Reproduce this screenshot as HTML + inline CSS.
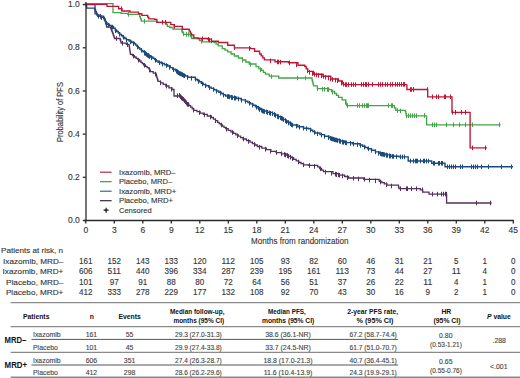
<!DOCTYPE html><html><head><meta charset="utf-8"><style>html,body{margin:0;padding:0;background:#fff;width:520px;height:378px;overflow:hidden}svg{display:block}text{font-family:"Liberation Sans",sans-serif}</style></head><body>
<svg width="520" height="378" viewBox="0 0 520 378">
<polyline points="85.5,4.5 94.6,4.5 95.0,4.5 95.0,13.8 97.0,13.8 97.0,15.0 99.0,15.0 99.0,16.2 103.6,16.2 103.6,17.3 104.2,17.3 104.2,18.7 104.8,18.7 104.8,20.1 105.3,20.1 105.3,21.6 105.9,21.6 105.9,23.0 106.1,23.0 106.1,24.3 106.4,24.3 106.4,25.7 106.6,25.7 106.6,27.0 110.6,27.0 110.6,28.0 111.1,28.0 111.1,29.3 111.6,29.3 111.6,30.6 112.1,30.6 112.1,31.9 112.6,31.9 112.6,33.2 113.1,33.2 113.1,34.5 113.5,34.5 113.5,35.9 114.0,35.9 114.0,37.2 114.5,37.2 114.5,38.5 119.8,38.5 120.2,38.5 120.2,40.0 120.7,40.0 120.7,41.6 121.1,41.6 121.1,43.1 126.4,43.1 126.4,44.4 129.0,44.4 129.0,45.1 129.2,45.1 129.2,46.4 129.4,46.4 129.4,47.8 129.6,47.8 129.6,49.1 129.8,49.1 129.8,50.4 130.0,50.4 130.0,51.7 130.2,51.7 130.2,53.1 130.4,53.1 130.4,54.4 132.4,54.4 132.4,55.7 134.4,55.7 134.4,57.0 136.1,57.0 136.1,58.3 137.9,58.3 137.9,59.7 139.6,59.7 139.6,61.0 140.9,61.0 140.9,62.3 142.3,62.3 142.3,63.7 143.6,63.7 143.6,65.0 145.4,65.0 145.4,66.3 147.1,66.3 147.1,67.6 148.9,67.6 148.9,68.9 149.7,68.9 149.7,70.3 150.4,70.3 150.4,71.7 153.2,71.7 153.2,73.2 156.0,73.2 156.0,74.6 156.4,74.6 156.4,75.9 156.8,75.9 156.8,77.3 157.2,77.3 157.2,78.6 157.6,78.6 157.6,80.0 158.0,80.0 158.0,81.3 160.6,81.3 160.6,82.9 163.2,82.9 163.2,84.4 165.8,84.4 165.8,86.0 168.9,86.0 168.9,87.8 172.0,87.8 172.0,89.5 174.0,89.5 174.0,89.8 174.0,96.0 179.5,96.0 179.5,95.4 180.9,95.4 180.9,96.9 182.2,96.9 182.2,98.3 183.6,98.3 183.6,99.8 184.9,99.8 184.9,101.2 186.3,101.2 186.3,102.7 187.6,102.7 187.6,104.1 189.0,104.1 189.0,105.6 190.6,105.6 190.6,107.2 192.2,107.2 192.2,108.8 193.8,108.8 193.8,110.4 197.0,110.4 197.0,111.7 200.1,111.7 200.1,113.1 203.3,113.1 203.3,114.4 207.3,114.4 207.3,116.0 211.3,116.0 211.3,117.5 213.4,117.5 213.4,119.1 215.5,119.1 215.5,120.7 217.6,120.7 217.6,122.3 219.2,122.3 219.2,123.6 220.8,123.6 220.8,124.9 222.4,124.9 222.4,126.1 224.0,126.1 224.0,127.4 225.6,127.4 225.6,128.7 228.2,128.7 228.2,130.3 230.9,130.3 230.9,131.8 233.5,131.8 233.5,133.4 235.9,133.4 235.9,134.8 238.2,134.8 238.2,136.2 240.6,136.2 240.6,137.6 243.0,137.6 243.0,139.0 246.5,139.0 246.5,140.6 250.0,140.6 250.0,142.1 252.4,142.1 252.4,143.6 254.9,143.6 254.9,145.0 257.3,145.0 257.3,146.5 261.8,146.5 261.8,148.1 266.3,148.1 266.3,149.7 270.8,149.7 270.8,151.3 276.1,151.3 276.1,152.6 281.5,152.6 281.5,153.8 286.2,153.8 286.2,155.2 288.6,155.2 288.6,156.4 291.0,156.4 291.0,157.7 293.6,157.7 293.6,159.3 296.2,159.3 296.2,160.9 298.8,160.9 298.8,162.5 301.1,162.5 301.1,163.7 303.5,163.7 303.5,164.8 308.5,164.8 308.5,165.4 317.7,165.4 317.7,166.9 319.6,166.9 319.6,168.5 321.6,168.5 321.6,170.1 323.5,170.1 323.5,171.7 333.0,171.7 333.0,173.7 338.8,173.7 338.8,175.1 344.6,175.1 344.6,176.5 348.5,176.5 348.5,178.0 363.8,178.0 363.8,179.4 379.2,179.4 379.2,181.3 381.8,181.3 381.8,182.6 384.3,182.6 384.3,183.9 386.9,183.9 386.9,185.2 398.5,185.2 398.5,187.2 399.0,187.2 399.0,188.7 418.0,188.7 420.4,188.7 420.4,189.8 422.7,189.8 422.7,192.1 429.0,192.1 429.0,194.1 446.6,194.1 446.6,203.0 491.7,203.0" fill="none" stroke="#54305f" stroke-width="1.3" stroke-linejoin="miter"/>
<path d="M100.5 14.1v4.6M105.5 19.7v4.6M111.5 26.7v4.6M116.5 36.2v4.6M122.5 41.0v4.6M127.5 42.4v4.6M133.5 53.8v4.6M138.5 57.9v4.6M144.5 63.0v4.6M149.5 67.7v4.6M155.5 71.8v4.6M160.5 80.5v4.6M166.5 83.8v4.6M171.5 86.9v4.6M177.5 93.4v4.6M182.5 96.3v4.6M188.5 102.2v4.6M193.5 107.8v4.6M199.5 110.3v4.6M204.5 112.6v4.6M210.5 114.7v4.6M215.5 118.4v4.6M221.5 122.7v4.6M226.5 126.9v4.6M232.5 130.2v4.6M237.5 133.5v4.6M243.5 136.7v4.6M248.5 139.1v4.6M254.5 142.2v4.6M259.5 145.0v4.6M265.5 146.9v4.6M270.5 148.9v4.6M276.5 150.2v4.6M281.5 151.5v4.6M287.5 153.3v4.6M292.5 156.3v4.6M298.5 159.7v4.6M303.5 162.5v4.6M309.5 163.2v4.6M314.5 164.1v4.6M320.5 166.5v4.6M325.5 169.8v4.6M331.5 171.0v4.6M336.5 172.2v4.6M342.5 173.6v4.6M347.5 175.3v4.6M353.5 176.1v4.6M358.5 176.6v4.6M364.5 177.1v4.6M369.5 177.8v4.6M375.5 178.5v4.6M380.5 179.7v4.6M386.5 182.4v4.6M391.5 183.7v4.6M179.5 93.1v4.6M180.5 94.4v4.6M181.5 95.7v4.6M183.5 97.0v4.6M184.5 98.3v4.6M185.5 99.5v4.6M186.5 100.8v4.6M187.5 102.1v4.6M284.5 152.2v4.6M285.5 152.7v4.6M287.5 153.3v4.6M288.5 154.1v4.6M290.5 154.9v4.6M335.5 171.9v4.6M336.5 172.2v4.6M338.5 172.6v4.6M339.5 173.0v4.6M400.5 186.4v4.6M406.5 186.4v4.6M407.5 186.4v4.6M411.5 186.4v4.6M416.5 186.4v4.6M422.5 187.5v4.6M432.5 191.8v4.6M437.5 191.8v4.6M441.5 191.8v4.6M443.5 191.8v4.6M445.5 191.8v4.6M446.5 191.8v4.6M476.5 200.7v4.6M490.5 200.7v4.6" stroke="#54305f" stroke-width="1.0" fill="none"/>
<polyline points="85.5,4.5 86.6,4.5 86.6,8.1 94.2,8.1 94.8,8.1 94.8,9.8 95.5,9.8 95.5,11.5 96.3,11.5 96.3,13.1 97.0,13.1 97.0,14.6 97.8,14.6 97.8,16.2 100.7,16.2 100.7,17.4 103.6,17.4 103.6,18.5 104.4,18.5 104.4,19.9 105.3,19.9 105.3,21.4 106.2,21.4 106.2,22.8 107.0,22.8 107.0,24.2 109.3,24.2 109.3,25.4 111.7,25.4 111.7,26.5 113.5,26.5 113.5,28.2 115.2,28.2 115.2,30.0 116.7,30.0 116.7,31.5 118.3,31.5 118.3,33.0 119.8,33.0 119.8,34.5 121.5,34.5 121.5,35.8 123.1,35.8 123.1,37.1 124.8,37.1 124.8,38.5 126.4,38.5 126.4,39.8 129.1,39.8 129.1,41.1 131.7,41.1 131.7,42.5 134.4,42.5 134.4,43.8 135.7,43.8 135.7,45.1 137.0,45.1 137.0,46.4 138.3,46.4 138.3,47.7 139.6,47.7 139.6,49.0 141.3,49.0 141.3,50.4 142.9,50.4 142.9,51.7 144.6,51.7 144.6,53.0 146.3,53.0 146.3,54.4 148.5,54.4 148.5,55.7 150.7,55.7 150.7,57.0 152.9,57.0 152.9,58.3 154.6,58.3 154.6,59.6 156.4,59.6 156.4,61.0 158.1,61.0 158.1,62.3 161.3,62.3 161.3,63.5 164.5,63.5 164.5,64.8 167.7,64.8 167.7,66.0 170.3,66.0 170.3,67.6 172.8,67.6 172.8,69.2 175.4,69.2 175.4,70.8 177.7,70.8 177.7,72.2 180.0,72.2 180.0,73.5 182.6,73.5 182.6,74.8 185.1,74.8 185.1,76.0 187.7,76.0 187.7,77.3 195.4,77.3 195.4,79.2 197.4,79.2 197.4,80.5 199.4,80.5 199.4,81.8 201.3,81.8 201.3,83.2 203.3,83.2 203.3,84.5 205.9,84.5 205.9,85.8 208.6,85.8 208.6,87.1 211.2,87.1 211.2,88.4 213.9,88.4 213.9,89.7 216.5,89.7 216.5,91.0 218.8,91.0 218.8,92.2 221.1,92.2 221.1,93.5 223.3,93.5 223.3,94.8 225.6,94.8 225.6,96.0 231.1,96.0 231.1,97.2 236.7,97.2 236.7,98.5 241.1,98.5 241.1,99.9 245.4,99.9 245.4,101.3 247.9,101.3 247.9,102.6 250.5,102.6 250.5,103.9 253.0,103.9 253.0,105.2 255.4,105.2 255.4,106.7 257.9,106.7 257.9,108.1 260.3,108.1 260.3,109.5 262.7,109.5 262.7,111.0 267.6,111.0 267.6,112.4 272.5,112.4 272.5,113.8 275.5,113.8 275.5,115.3 278.5,115.3 278.5,116.8 281.5,116.8 281.5,118.3 283.6,118.3 283.6,119.6 285.7,119.6 285.7,121.0 287.8,121.0 287.8,122.3 289.9,122.3 289.9,123.7 292.0,123.7 292.0,125.0 297.8,125.0 297.8,126.7 303.5,126.7 303.5,128.3 308.5,128.3 308.5,128.8 310.7,128.8 310.7,130.2 312.8,130.2 312.8,131.6 315.0,131.6 315.0,133.0 320.0,133.0 320.0,134.6 324.5,134.6 324.5,136.2 329.0,136.2 329.0,137.8 333.5,137.8 333.5,139.4 339.1,139.4 339.1,141.0 344.6,141.0 344.6,142.6 352.3,142.6 352.3,143.8 360.0,143.8 360.0,145.0 362.6,145.0 362.6,146.2 365.1,146.2 365.1,147.5 367.7,147.5 367.7,148.7 371.5,148.7 371.5,150.3 375.4,150.3 375.4,151.9 379.2,151.9 379.2,153.5 385.0,153.5 385.0,154.9 390.8,154.9 390.8,156.3 399.0,156.3 399.0,156.9 408.0,156.9 408.2,156.9 408.2,161.0 431.7,161.0 431.7,163.3 445.0,163.3 445.0,166.8 513.0,166.8" fill="none" stroke="#1b4a7c" stroke-width="1.4" stroke-linejoin="miter"/>
<path d="M98.5 14.0v4.6M101.5 15.4v4.6M105.5 18.9v4.6M108.5 22.8v4.6M112.5 24.9v4.6M115.5 28.5v4.6M119.5 32.0v4.6M123.5 34.9v4.6M126.5 37.7v4.6M130.5 39.5v4.6M133.5 41.3v4.6M137.5 44.7v4.6M141.5 48.0v4.6M144.5 50.9v4.6M148.5 53.3v4.6M151.5 55.5v4.6M155.5 58.1v4.6M159.5 60.4v4.6M162.5 61.8v4.6M166.5 63.2v4.6M169.5 65.1v4.6M173.5 67.4v4.6M177.5 69.6v4.6M180.5 71.6v4.6M184.5 73.4v4.6M187.5 75.1v4.6M191.5 76.0v4.6M195.5 76.9v4.6M198.5 79.2v4.6M202.5 81.6v4.6M205.5 83.5v4.6M209.5 85.3v4.6M213.5 87.1v4.6M216.5 88.9v4.6M220.5 90.8v4.6M223.5 92.8v4.6M227.5 94.2v4.6M231.5 95.0v4.6M234.5 95.8v4.6M238.5 96.7v4.6M241.5 97.9v4.6M245.5 99.1v4.6M249.5 100.9v4.6M252.5 102.8v4.6M256.5 104.9v4.6M259.5 107.1v4.6M263.5 109.0v4.6M267.5 110.0v4.6M270.5 111.0v4.6M274.5 112.4v4.6M277.5 114.2v4.6M281.5 116.1v4.6M285.5 118.4v4.6M288.5 120.7v4.6M292.5 122.8v4.6M296.5 123.8v4.6M299.5 124.9v4.6M303.5 125.9v4.6M306.5 126.3v4.6M310.5 127.7v4.6M314.5 130.1v4.6M317.5 131.5v4.6M321.5 132.7v4.6M324.5 134.0v4.6M328.5 135.3v4.6M332.5 136.6v4.6M335.5 137.7v4.6M339.5 138.7v4.6M342.5 139.8v4.6M346.5 140.6v4.6M350.5 141.1v4.6M353.5 141.7v4.6M357.5 142.3v4.6M360.5 143.1v4.6M364.5 144.8v4.6M368.5 146.5v4.6M371.5 148.0v4.6M375.5 149.5v4.6M378.5 151.0v4.6M382.5 152.0v4.6M386.5 152.8v4.6M389.5 153.7v4.6M393.5 154.2v4.6M396.5 154.4v4.6M144.5 50.2v4.6M145.5 51.2v4.6M146.5 52.2v4.6M147.5 52.9v4.6M148.5 53.6v4.6M149.5 54.3v4.6M176.5 68.9v4.6M177.5 69.6v4.6M178.5 70.4v4.6M179.5 71.1v4.6M181.5 71.8v4.6M182.5 72.4v4.6M183.5 73.1v4.6M228.5 94.2v4.6M229.5 94.6v4.6M231.5 94.9v4.6M232.5 95.3v4.6M234.5 95.6v4.6M235.5 95.9v4.6M258.5 105.9v4.6M259.5 106.8v4.6M261.5 107.8v4.6M262.5 108.7v4.6M264.5 109.2v4.6M266.5 109.6v4.6M267.5 110.1v4.6M269.5 110.6v4.6M270.5 111.0v4.6M272.5 111.5v4.6M274.5 112.3v4.6M275.5 113.1v4.6M277.5 113.9v4.6M278.5 114.7v4.6M280.5 115.5v4.6M282.5 116.3v4.6M283.5 117.3v4.6M285.5 118.4v4.6M286.5 119.4v4.6M288.5 120.4v4.6M290.5 121.4v4.6M291.5 122.4v4.6M330.5 135.9v4.6M331.5 136.4v4.6M333.5 136.9v4.6M334.5 137.4v4.6M336.5 137.8v4.6M337.5 138.3v4.6M339.5 138.7v4.6M340.5 139.1v4.6M342.5 139.6v4.6M343.5 140.0v4.6M345.5 140.4v4.6M380.5 151.4v4.6M381.5 151.8v4.6M383.5 152.1v4.6M384.5 152.5v4.6M386.5 152.8v4.6M387.5 153.2v4.6M389.5 153.6v4.6M390.5 153.9v4.6M392.5 154.1v4.6M400.5 154.6v4.6M402.5 154.6v4.6M404.5 154.6v4.6M410.5 158.7v4.6M413.5 158.7v4.6M415.5 158.7v4.6M416.5 158.7v4.6M417.5 158.7v4.6M420.5 158.7v4.6M423.5 158.7v4.6M424.5 158.7v4.6M426.5 158.7v4.6M428.5 158.7v4.6M433.5 161.0v4.6M434.5 161.0v4.6M438.5 161.0v4.6M439.5 161.0v4.6M441.5 161.0v4.6M442.5 161.0v4.6M447.5 164.5v4.6M449.5 164.5v4.6M451.5 164.5v4.6M453.5 164.5v4.6M455.5 164.5v4.6M460.5 164.5v4.6M462.5 164.5v4.6M471.5 164.5v4.6M473.5 164.5v4.6M475.5 164.5v4.6M477.5 164.5v4.6M481.5 164.5v4.6M488.5 164.5v4.6M501.5 164.5v4.6M511.5 164.5v4.6" stroke="#1b4a7c" stroke-width="1.0" fill="none"/>
<polyline points="85.5,3.6 112.5,3.6 113.0,3.6 113.0,12.7 121.0,12.7 121.0,13.3 127.8,13.3 127.8,14.4 138.2,14.4 139.6,14.4 139.6,16.5 140.4,16.5 140.4,18.9 141.3,18.9 141.3,21.2 155.8,21.2 156.9,21.2 156.9,22.3 165.6,22.3 165.6,22.5 166.4,22.5 166.4,24.4 167.3,24.4 167.3,26.3 169.6,26.3 169.6,27.5 173.0,27.5 173.0,29.2 181.2,29.2 181.8,29.2 181.8,31.0 182.3,31.0 182.3,32.7 183.5,32.7 183.5,34.4 189.2,34.4 190.4,34.4 190.4,36.5 191.7,36.5 191.7,38.5 199.4,38.5 199.4,40.5 202.1,40.5 202.1,41.8 214.2,41.8 214.2,42.5 216.2,42.5 216.2,44.2 218.3,44.2 218.3,45.9 222.3,45.9 222.3,48.6 225.0,48.6 225.0,50.2 227.7,50.2 227.7,51.9 231.1,51.9 231.1,54.0 234.4,54.0 234.4,56.0 238.4,56.0 238.4,58.0 242.5,58.0 242.5,60.0 245.8,60.0 245.8,62.0 249.2,62.0 249.2,64.0 256.0,64.0 256.0,66.7 258.8,66.7 258.8,68.6 261.5,68.6 261.5,70.4 263.4,70.4 263.4,72.3 265.4,72.3 265.4,74.2 269.2,74.2 269.2,76.2 278.8,76.2 278.8,78.0 311.5,78.0 312.0,78.0 312.0,80.0 312.5,80.0 312.5,81.9 313.0,81.9 313.0,83.8 313.5,83.8 313.5,85.8 317.3,85.8 317.3,88.7 328.8,88.7 328.8,89.6 331.7,89.6 331.7,91.5 334.6,91.5 334.6,93.5 336.6,93.5 336.6,95.4 338.5,95.4 338.5,97.3 342.1,97.3 342.1,99.8 345.8,99.8 345.8,102.3 346.2,102.3 346.2,103.9 346.7,103.9 346.7,105.6 392.9,105.6 394.4,105.6 394.4,108.0 395.8,108.0 395.8,110.4 405.4,110.4 405.4,111.5 405.9,111.5 405.9,113.7 406.3,113.7 406.3,115.8 426.6,115.8 426.6,115.5 426.6,124.8 500.6,124.8" fill="none" stroke="#45a448" stroke-width="1.3" stroke-linejoin="miter"/>
<path d="M128.5 12.1v4.6M144.5 18.9v4.6M183.5 31.4v4.6M186.5 32.1v4.6M188.5 32.1v4.6M201.5 39.1v4.6M242.5 57.8v4.6M250.5 62.2v4.6M260.5 67.5v4.6M271.5 74.3v4.6M297.5 75.7v4.6M305.5 75.7v4.6M317.5 86.3v4.6M322.5 86.8v4.6M324.5 87.0v4.6M327.5 87.2v4.6M328.5 87.3v4.6M332.5 89.9v4.6M345.5 100.0v4.6M347.5 103.3v4.6M357.5 103.3v4.6M359.5 103.3v4.6M362.5 103.3v4.6M364.5 103.3v4.6M366.5 103.3v4.6M367.5 103.3v4.6M368.5 103.3v4.6M388.5 103.3v4.6M391.5 103.3v4.6M392.5 103.3v4.6M397.5 108.3v4.6M400.5 108.7v4.6M406.5 113.5v4.6M408.5 113.5v4.6M410.5 113.4v4.6M412.5 113.4v4.6M414.5 113.4v4.6M416.5 113.4v4.6M424.5 113.2v4.6M432.5 122.5v4.6M434.5 122.5v4.6M436.5 122.5v4.6M446.5 122.5v4.6M453.5 122.5v4.6M459.5 122.5v4.6M465.5 122.5v4.6M472.5 122.5v4.6M499.5 122.5v4.6" stroke="#45a448" stroke-width="1.0" fill="none"/>
<polyline points="83.5,4.4 107.0,4.4 107.0,6.3 118.6,6.3 118.6,8.7 122.0,8.7 122.0,11.0 130.0,11.0 130.0,12.1 137.0,12.1 138.5,12.1 138.5,13.7 141.9,13.7 141.9,15.4 146.5,15.4 147.7,15.4 147.7,17.1 148.8,17.1 148.8,18.8 154.6,18.8 154.6,19.4 156.9,19.4 156.9,22.3 168.5,22.3 170.8,22.3 170.8,24.6 174.2,24.6 174.2,26.3 181.2,26.3 182.3,26.3 182.3,29.2 188.0,29.2 189.2,29.2 189.2,31.1 190.3,31.1 190.3,33.1 191.5,33.1 191.5,35.0 193.8,35.0 193.8,37.9 198.0,37.9 198.0,38.5 207.5,38.5 207.5,39.1 211.5,39.1 211.5,41.2 218.3,41.2 218.3,42.5 227.7,42.5 227.7,45.2 234.4,45.2 234.4,47.9 250.6,47.9 250.6,48.6 254.6,48.6 254.6,51.2 259.6,51.2 259.6,54.0 261.2,54.0 261.2,55.9 262.8,55.9 262.8,57.9 264.4,57.9 264.4,59.8 275.0,59.8 275.0,61.7 288.5,61.7 288.5,62.7 298.0,62.7 298.0,65.2 304.8,65.2 304.8,66.5 306.2,66.5 306.2,68.9 307.7,68.9 307.7,71.3 313.5,71.3 313.5,74.2 323.0,74.2 323.0,76.2 330.8,76.2 330.8,79.0 338.5,79.0 338.5,81.0 342.3,81.0 342.3,83.8 343.8,83.8 343.8,84.6 406.9,84.6 406.9,84.4 406.9,89.5 427.7,89.5 427.7,96.8 452.0,96.8 452.0,112.3 470.1,112.3 470.1,147.9 487.0,147.9" fill="none" stroke="#c01434" stroke-width="1.35" stroke-linejoin="miter"/>
<path d="M121.5 6.4v4.6M162.5 20.0v4.6M165.5 20.0v4.6M174.5 24.0v4.6M202.5 36.5v4.6M208.5 37.1v4.6M209.5 37.9v4.6M211.5 38.6v4.6M234.5 45.4v4.6M249.5 46.2v4.6M270.5 58.6v4.6M277.5 59.6v4.6M278.5 59.7v4.6M280.5 59.8v4.6M289.5 60.6v4.6M296.5 62.6v4.6M307.5 68.5v4.6M309.5 70.0v4.6M312.5 71.2v4.6M314.5 72.1v4.6M316.5 72.6v4.6M318.5 73.0v4.6M321.5 73.5v4.6M323.5 74.1v4.6M325.5 74.9v4.6M328.5 75.7v4.6M330.5 76.6v4.6M332.5 77.2v4.6M335.5 77.8v4.6M337.5 78.4v4.6M341.5 80.8v4.6M343.5 81.9v4.6M345.5 82.3v4.6M346.5 82.3v4.6M348.5 82.3v4.6M351.5 82.3v4.6M353.5 82.3v4.6M355.5 82.3v4.6M361.5 82.2v4.6M363.5 82.2v4.6M365.5 82.2v4.6M366.5 82.2v4.6M368.5 82.2v4.6M372.5 82.2v4.6M378.5 82.2v4.6M380.5 82.2v4.6M382.5 82.2v4.6M385.5 82.2v4.6M387.5 82.2v4.6M390.5 82.2v4.6M392.5 82.1v4.6M395.5 82.1v4.6M397.5 82.1v4.6M399.5 82.1v4.6M401.5 82.1v4.6M403.5 82.1v4.6M404.5 82.1v4.6M410.5 87.2v4.6M411.5 87.2v4.6M413.5 87.2v4.6M413.5 87.2v4.6M427.5 87.2v4.6M432.5 94.5v4.6M436.5 94.5v4.6M438.5 94.5v4.6M444.5 94.5v4.6M445.5 94.5v4.6M450.5 94.5v4.6M452.5 110.0v4.6M455.5 110.0v4.6M461.5 110.0v4.6M465.5 110.0v4.6M472.5 145.6v4.6M485.5 145.6v4.6" stroke="#c01434" stroke-width="1.0" fill="none"/>
<g stroke="#2a2a2a" stroke-width="1.3" fill="none">
<line x1="86.0" y1="2.0" x2="86.0" y2="221.1"/>
<line x1="83.8" y1="220.5" x2="513.9" y2="220.5"/>
<line x1="82.8" y1="220.50" x2="85.8" y2="220.50"/>
<line x1="82.8" y1="177.32" x2="85.8" y2="177.32"/>
<line x1="82.8" y1="134.14" x2="85.8" y2="134.14"/>
<line x1="82.8" y1="90.96" x2="85.8" y2="90.96"/>
<line x1="82.8" y1="47.78" x2="85.8" y2="47.78"/>
<line x1="82.8" y1="4.60" x2="85.8" y2="4.60"/>
<line x1="85.80" y1="220.5" x2="85.80" y2="223.5"/>
<line x1="114.30" y1="220.5" x2="114.30" y2="223.5"/>
<line x1="142.80" y1="220.5" x2="142.80" y2="223.5"/>
<line x1="171.30" y1="220.5" x2="171.30" y2="223.5"/>
<line x1="199.80" y1="220.5" x2="199.80" y2="223.5"/>
<line x1="228.30" y1="220.5" x2="228.30" y2="223.5"/>
<line x1="256.80" y1="220.5" x2="256.80" y2="223.5"/>
<line x1="285.30" y1="220.5" x2="285.30" y2="223.5"/>
<line x1="313.80" y1="220.5" x2="313.80" y2="223.5"/>
<line x1="342.30" y1="220.5" x2="342.30" y2="223.5"/>
<line x1="370.80" y1="220.5" x2="370.80" y2="223.5"/>
<line x1="399.30" y1="220.5" x2="399.30" y2="223.5"/>
<line x1="427.80" y1="220.5" x2="427.80" y2="223.5"/>
<line x1="456.30" y1="220.5" x2="456.30" y2="223.5"/>
<line x1="484.80" y1="220.5" x2="484.80" y2="223.5"/>
<line x1="513.30" y1="220.5" x2="513.30" y2="223.5"/>
</g>
<text x="79.80" y="223.10" font-size="8.5" fill="#333" text-anchor="end" stroke="#333" stroke-width="0.12">0.0</text>
<text x="79.80" y="179.92" font-size="8.5" fill="#333" text-anchor="end" stroke="#333" stroke-width="0.12">0.2</text>
<text x="79.80" y="136.74" font-size="8.5" fill="#333" text-anchor="end" stroke="#333" stroke-width="0.12">0.4</text>
<text x="79.80" y="93.56" font-size="8.5" fill="#333" text-anchor="end" stroke="#333" stroke-width="0.12">0.6</text>
<text x="79.80" y="50.38" font-size="8.5" fill="#333" text-anchor="end" stroke="#333" stroke-width="0.12">0.8</text>
<text x="79.80" y="7.20" font-size="8.5" fill="#333" text-anchor="end" stroke="#333" stroke-width="0.12">1.0</text>
<text x="85.80" y="232.60" font-size="8.5" fill="#333" text-anchor="middle" stroke="#333" stroke-width="0.12">0</text>
<text x="114.30" y="232.60" font-size="8.5" fill="#333" text-anchor="middle" stroke="#333" stroke-width="0.12">3</text>
<text x="142.80" y="232.60" font-size="8.5" fill="#333" text-anchor="middle" stroke="#333" stroke-width="0.12">6</text>
<text x="171.30" y="232.60" font-size="8.5" fill="#333" text-anchor="middle" stroke="#333" stroke-width="0.12">9</text>
<text x="199.80" y="232.60" font-size="8.5" fill="#333" text-anchor="middle" stroke="#333" stroke-width="0.12">12</text>
<text x="228.30" y="232.60" font-size="8.5" fill="#333" text-anchor="middle" stroke="#333" stroke-width="0.12">15</text>
<text x="256.80" y="232.60" font-size="8.5" fill="#333" text-anchor="middle" stroke="#333" stroke-width="0.12">18</text>
<text x="285.30" y="232.60" font-size="8.5" fill="#333" text-anchor="middle" stroke="#333" stroke-width="0.12">21</text>
<text x="313.80" y="232.60" font-size="8.5" fill="#333" text-anchor="middle" stroke="#333" stroke-width="0.12">24</text>
<text x="342.30" y="232.60" font-size="8.5" fill="#333" text-anchor="middle" stroke="#333" stroke-width="0.12">27</text>
<text x="370.80" y="232.60" font-size="8.5" fill="#333" text-anchor="middle" stroke="#333" stroke-width="0.12">30</text>
<text x="399.30" y="232.60" font-size="8.5" fill="#333" text-anchor="middle" stroke="#333" stroke-width="0.12">33</text>
<text x="427.80" y="232.60" font-size="8.5" fill="#333" text-anchor="middle" stroke="#333" stroke-width="0.12">36</text>
<text x="456.30" y="232.60" font-size="8.5" fill="#333" text-anchor="middle" stroke="#333" stroke-width="0.12">39</text>
<text x="484.80" y="232.60" font-size="8.5" fill="#333" text-anchor="middle" stroke="#333" stroke-width="0.12">42</text>
<text x="513.30" y="232.60" font-size="8.5" fill="#333" text-anchor="middle" stroke="#333" stroke-width="0.12">45</text>
<text x="299.80" y="243.60" font-size="9.4" fill="#333" text-anchor="middle" textLength="97.5" lengthAdjust="spacingAndGlyphs" stroke="#333" stroke-width="0.12">Months from randomization</text>
<text transform="translate(62.7,112.1) rotate(-90)" fill="#333" stroke="#333" stroke-width="0.12" font-size="9.4" text-anchor="middle" textLength="60" lengthAdjust="spacingAndGlyphs">Probability of PFS</text>
<line x1="100" y1="172.20000000000002" x2="111.6" y2="172.20000000000002" stroke="#a8203f" stroke-width="1.15"/>
<text x="119.00" y="174.80" font-size="7.4" fill="#333" textLength="56.6" lengthAdjust="spacingAndGlyphs" stroke="#333" stroke-width="0.12">Ixazomib, MRD–</text>
<line x1="100" y1="181.70000000000002" x2="111.6" y2="181.70000000000002" stroke="#3d8f45" stroke-width="1.15"/>
<text x="119.00" y="184.30" font-size="7.4" fill="#333" textLength="53.2" lengthAdjust="spacingAndGlyphs" stroke="#333" stroke-width="0.12">Placebo, MRD–</text>
<line x1="100" y1="191.20000000000002" x2="111.6" y2="191.20000000000002" stroke="#2f5f8f" stroke-width="1.15"/>
<text x="119.00" y="193.80" font-size="7.4" fill="#333" textLength="57.2" lengthAdjust="spacingAndGlyphs" stroke="#333" stroke-width="0.12">Ixazomib, MRD+</text>
<line x1="100" y1="200.70000000000002" x2="111.6" y2="200.70000000000002" stroke="#2e1e3a" stroke-width="1.15"/>
<text x="119.00" y="203.30" font-size="7.4" fill="#333" textLength="54.1" lengthAdjust="spacingAndGlyphs" stroke="#333" stroke-width="0.12">Placebo, MRD+</text>
<path d="M103.6 210.2h5M106.1 207.7v5" stroke="#111" stroke-width="1.2"/>
<text x="119.00" y="212.80" font-size="7.4" fill="#333" textLength="32.6" lengthAdjust="spacingAndGlyphs" stroke="#333" stroke-width="0.12">Censored</text>
<text x="1.10" y="252.70" font-size="8.0" fill="#333" textLength="62.0" lengthAdjust="spacingAndGlyphs" stroke="#333" stroke-width="0.12">Patients at risk, n</text>
<text x="3.10" y="263.80" font-size="8.0" fill="#333" textLength="60.3" lengthAdjust="spacingAndGlyphs" stroke="#333" stroke-width="0.12">Ixazomib, MRD–</text>
<text x="85.80" y="263.80" font-size="8.2" fill="#333" text-anchor="middle" textLength="13.5" lengthAdjust="spacingAndGlyphs" stroke="#333" stroke-width="0.12">161</text>
<text x="114.30" y="263.80" font-size="8.2" fill="#333" text-anchor="middle" textLength="13.5" lengthAdjust="spacingAndGlyphs" stroke="#333" stroke-width="0.12">152</text>
<text x="142.80" y="263.80" font-size="8.2" fill="#333" text-anchor="middle" textLength="13.5" lengthAdjust="spacingAndGlyphs" stroke="#333" stroke-width="0.12">143</text>
<text x="171.30" y="263.80" font-size="8.2" fill="#333" text-anchor="middle" textLength="13.5" lengthAdjust="spacingAndGlyphs" stroke="#333" stroke-width="0.12">133</text>
<text x="199.80" y="263.80" font-size="8.2" fill="#333" text-anchor="middle" textLength="13.5" lengthAdjust="spacingAndGlyphs" stroke="#333" stroke-width="0.12">120</text>
<text x="228.30" y="263.80" font-size="8.2" fill="#333" text-anchor="middle" textLength="13.5" lengthAdjust="spacingAndGlyphs" stroke="#333" stroke-width="0.12">112</text>
<text x="256.80" y="263.80" font-size="8.2" fill="#333" text-anchor="middle" textLength="13.5" lengthAdjust="spacingAndGlyphs" stroke="#333" stroke-width="0.12">105</text>
<text x="285.30" y="263.80" font-size="8.2" fill="#333" text-anchor="middle" textLength="9.0" lengthAdjust="spacingAndGlyphs" stroke="#333" stroke-width="0.12">93</text>
<text x="313.80" y="263.80" font-size="8.2" fill="#333" text-anchor="middle" textLength="9.0" lengthAdjust="spacingAndGlyphs" stroke="#333" stroke-width="0.12">82</text>
<text x="342.30" y="263.80" font-size="8.2" fill="#333" text-anchor="middle" textLength="9.0" lengthAdjust="spacingAndGlyphs" stroke="#333" stroke-width="0.12">60</text>
<text x="370.80" y="263.80" font-size="8.2" fill="#333" text-anchor="middle" textLength="9.0" lengthAdjust="spacingAndGlyphs" stroke="#333" stroke-width="0.12">46</text>
<text x="399.30" y="263.80" font-size="8.2" fill="#333" text-anchor="middle" textLength="9.0" lengthAdjust="spacingAndGlyphs" stroke="#333" stroke-width="0.12">31</text>
<text x="427.80" y="263.80" font-size="8.2" fill="#333" text-anchor="middle" textLength="9.0" lengthAdjust="spacingAndGlyphs" stroke="#333" stroke-width="0.12">21</text>
<text x="456.30" y="263.80" font-size="8.2" fill="#333" text-anchor="middle" textLength="4.5" lengthAdjust="spacingAndGlyphs" stroke="#333" stroke-width="0.12">5</text>
<text x="484.80" y="263.80" font-size="8.2" fill="#333" text-anchor="middle" textLength="4.5" lengthAdjust="spacingAndGlyphs" stroke="#333" stroke-width="0.12">1</text>
<text x="513.30" y="263.80" font-size="8.2" fill="#333" text-anchor="middle" textLength="4.5" lengthAdjust="spacingAndGlyphs" stroke="#333" stroke-width="0.12">0</text>
<text x="2.60" y="274.30" font-size="8.0" fill="#333" textLength="60.8" lengthAdjust="spacingAndGlyphs" stroke="#333" stroke-width="0.12">Ixazomib, MRD+</text>
<text x="85.80" y="274.30" font-size="8.2" fill="#333" text-anchor="middle" textLength="13.5" lengthAdjust="spacingAndGlyphs" stroke="#333" stroke-width="0.12">606</text>
<text x="114.30" y="274.30" font-size="8.2" fill="#333" text-anchor="middle" textLength="13.5" lengthAdjust="spacingAndGlyphs" stroke="#333" stroke-width="0.12">511</text>
<text x="142.80" y="274.30" font-size="8.2" fill="#333" text-anchor="middle" textLength="13.5" lengthAdjust="spacingAndGlyphs" stroke="#333" stroke-width="0.12">440</text>
<text x="171.30" y="274.30" font-size="8.2" fill="#333" text-anchor="middle" textLength="13.5" lengthAdjust="spacingAndGlyphs" stroke="#333" stroke-width="0.12">396</text>
<text x="199.80" y="274.30" font-size="8.2" fill="#333" text-anchor="middle" textLength="13.5" lengthAdjust="spacingAndGlyphs" stroke="#333" stroke-width="0.12">334</text>
<text x="228.30" y="274.30" font-size="8.2" fill="#333" text-anchor="middle" textLength="13.5" lengthAdjust="spacingAndGlyphs" stroke="#333" stroke-width="0.12">287</text>
<text x="256.80" y="274.30" font-size="8.2" fill="#333" text-anchor="middle" textLength="13.5" lengthAdjust="spacingAndGlyphs" stroke="#333" stroke-width="0.12">239</text>
<text x="285.30" y="274.30" font-size="8.2" fill="#333" text-anchor="middle" textLength="13.5" lengthAdjust="spacingAndGlyphs" stroke="#333" stroke-width="0.12">195</text>
<text x="313.80" y="274.30" font-size="8.2" fill="#333" text-anchor="middle" textLength="13.5" lengthAdjust="spacingAndGlyphs" stroke="#333" stroke-width="0.12">161</text>
<text x="342.30" y="274.30" font-size="8.2" fill="#333" text-anchor="middle" textLength="13.5" lengthAdjust="spacingAndGlyphs" stroke="#333" stroke-width="0.12">113</text>
<text x="370.80" y="274.30" font-size="8.2" fill="#333" text-anchor="middle" textLength="9.0" lengthAdjust="spacingAndGlyphs" stroke="#333" stroke-width="0.12">73</text>
<text x="399.30" y="274.30" font-size="8.2" fill="#333" text-anchor="middle" textLength="9.0" lengthAdjust="spacingAndGlyphs" stroke="#333" stroke-width="0.12">44</text>
<text x="427.80" y="274.30" font-size="8.2" fill="#333" text-anchor="middle" textLength="9.0" lengthAdjust="spacingAndGlyphs" stroke="#333" stroke-width="0.12">27</text>
<text x="456.30" y="274.30" font-size="8.2" fill="#333" text-anchor="middle" textLength="9.0" lengthAdjust="spacingAndGlyphs" stroke="#333" stroke-width="0.12">11</text>
<text x="484.80" y="274.30" font-size="8.2" fill="#333" text-anchor="middle" textLength="4.5" lengthAdjust="spacingAndGlyphs" stroke="#333" stroke-width="0.12">4</text>
<text x="513.30" y="274.30" font-size="8.2" fill="#333" text-anchor="middle" textLength="4.5" lengthAdjust="spacingAndGlyphs" stroke="#333" stroke-width="0.12">0</text>
<text x="6.10" y="284.80" font-size="8.0" fill="#333" textLength="57.3" lengthAdjust="spacingAndGlyphs" stroke="#333" stroke-width="0.12">Placebo, MRD–</text>
<text x="85.80" y="284.80" font-size="8.2" fill="#333" text-anchor="middle" textLength="13.5" lengthAdjust="spacingAndGlyphs" stroke="#333" stroke-width="0.12">101</text>
<text x="114.30" y="284.80" font-size="8.2" fill="#333" text-anchor="middle" textLength="9.0" lengthAdjust="spacingAndGlyphs" stroke="#333" stroke-width="0.12">97</text>
<text x="142.80" y="284.80" font-size="8.2" fill="#333" text-anchor="middle" textLength="9.0" lengthAdjust="spacingAndGlyphs" stroke="#333" stroke-width="0.12">91</text>
<text x="171.30" y="284.80" font-size="8.2" fill="#333" text-anchor="middle" textLength="9.0" lengthAdjust="spacingAndGlyphs" stroke="#333" stroke-width="0.12">88</text>
<text x="199.80" y="284.80" font-size="8.2" fill="#333" text-anchor="middle" textLength="9.0" lengthAdjust="spacingAndGlyphs" stroke="#333" stroke-width="0.12">80</text>
<text x="228.30" y="284.80" font-size="8.2" fill="#333" text-anchor="middle" textLength="9.0" lengthAdjust="spacingAndGlyphs" stroke="#333" stroke-width="0.12">72</text>
<text x="256.80" y="284.80" font-size="8.2" fill="#333" text-anchor="middle" textLength="9.0" lengthAdjust="spacingAndGlyphs" stroke="#333" stroke-width="0.12">64</text>
<text x="285.30" y="284.80" font-size="8.2" fill="#333" text-anchor="middle" textLength="9.0" lengthAdjust="spacingAndGlyphs" stroke="#333" stroke-width="0.12">56</text>
<text x="313.80" y="284.80" font-size="8.2" fill="#333" text-anchor="middle" textLength="9.0" lengthAdjust="spacingAndGlyphs" stroke="#333" stroke-width="0.12">51</text>
<text x="342.30" y="284.80" font-size="8.2" fill="#333" text-anchor="middle" textLength="9.0" lengthAdjust="spacingAndGlyphs" stroke="#333" stroke-width="0.12">37</text>
<text x="370.80" y="284.80" font-size="8.2" fill="#333" text-anchor="middle" textLength="9.0" lengthAdjust="spacingAndGlyphs" stroke="#333" stroke-width="0.12">26</text>
<text x="399.30" y="284.80" font-size="8.2" fill="#333" text-anchor="middle" textLength="9.0" lengthAdjust="spacingAndGlyphs" stroke="#333" stroke-width="0.12">22</text>
<text x="427.80" y="284.80" font-size="8.2" fill="#333" text-anchor="middle" textLength="9.0" lengthAdjust="spacingAndGlyphs" stroke="#333" stroke-width="0.12">11</text>
<text x="456.30" y="284.80" font-size="8.2" fill="#333" text-anchor="middle" textLength="4.5" lengthAdjust="spacingAndGlyphs" stroke="#333" stroke-width="0.12">4</text>
<text x="484.80" y="284.80" font-size="8.2" fill="#333" text-anchor="middle" textLength="4.5" lengthAdjust="spacingAndGlyphs" stroke="#333" stroke-width="0.12">1</text>
<text x="513.30" y="284.80" font-size="8.2" fill="#333" text-anchor="middle" textLength="4.5" lengthAdjust="spacingAndGlyphs" stroke="#333" stroke-width="0.12">0</text>
<text x="5.90" y="295.20" font-size="8.0" fill="#333" textLength="57.5" lengthAdjust="spacingAndGlyphs" stroke="#333" stroke-width="0.12">Placebo, MRD+</text>
<text x="85.80" y="295.20" font-size="8.2" fill="#333" text-anchor="middle" textLength="13.5" lengthAdjust="spacingAndGlyphs" stroke="#333" stroke-width="0.12">412</text>
<text x="114.30" y="295.20" font-size="8.2" fill="#333" text-anchor="middle" textLength="13.5" lengthAdjust="spacingAndGlyphs" stroke="#333" stroke-width="0.12">333</text>
<text x="142.80" y="295.20" font-size="8.2" fill="#333" text-anchor="middle" textLength="13.5" lengthAdjust="spacingAndGlyphs" stroke="#333" stroke-width="0.12">278</text>
<text x="171.30" y="295.20" font-size="8.2" fill="#333" text-anchor="middle" textLength="13.5" lengthAdjust="spacingAndGlyphs" stroke="#333" stroke-width="0.12">229</text>
<text x="199.80" y="295.20" font-size="8.2" fill="#333" text-anchor="middle" textLength="13.5" lengthAdjust="spacingAndGlyphs" stroke="#333" stroke-width="0.12">177</text>
<text x="228.30" y="295.20" font-size="8.2" fill="#333" text-anchor="middle" textLength="13.5" lengthAdjust="spacingAndGlyphs" stroke="#333" stroke-width="0.12">132</text>
<text x="256.80" y="295.20" font-size="8.2" fill="#333" text-anchor="middle" textLength="13.5" lengthAdjust="spacingAndGlyphs" stroke="#333" stroke-width="0.12">108</text>
<text x="285.30" y="295.20" font-size="8.2" fill="#333" text-anchor="middle" textLength="9.0" lengthAdjust="spacingAndGlyphs" stroke="#333" stroke-width="0.12">92</text>
<text x="313.80" y="295.20" font-size="8.2" fill="#333" text-anchor="middle" textLength="9.0" lengthAdjust="spacingAndGlyphs" stroke="#333" stroke-width="0.12">70</text>
<text x="342.30" y="295.20" font-size="8.2" fill="#333" text-anchor="middle" textLength="9.0" lengthAdjust="spacingAndGlyphs" stroke="#333" stroke-width="0.12">43</text>
<text x="370.80" y="295.20" font-size="8.2" fill="#333" text-anchor="middle" textLength="9.0" lengthAdjust="spacingAndGlyphs" stroke="#333" stroke-width="0.12">30</text>
<text x="399.30" y="295.20" font-size="8.2" fill="#333" text-anchor="middle" textLength="9.0" lengthAdjust="spacingAndGlyphs" stroke="#333" stroke-width="0.12">16</text>
<text x="427.80" y="295.20" font-size="8.2" fill="#333" text-anchor="middle" textLength="4.5" lengthAdjust="spacingAndGlyphs" stroke="#333" stroke-width="0.12">9</text>
<text x="456.30" y="295.20" font-size="8.2" fill="#333" text-anchor="middle" textLength="4.5" lengthAdjust="spacingAndGlyphs" stroke="#333" stroke-width="0.12">2</text>
<text x="484.80" y="295.20" font-size="8.2" fill="#333" text-anchor="middle" textLength="4.5" lengthAdjust="spacingAndGlyphs" stroke="#333" stroke-width="0.12">1</text>
<text x="513.30" y="295.20" font-size="8.2" fill="#333" text-anchor="middle" textLength="4.5" lengthAdjust="spacingAndGlyphs" stroke="#333" stroke-width="0.12">0</text>
<g stroke="#8a8a8a">
<line x1="10.6" y1="302.6" x2="520" y2="302.6" stroke-width="1.4"/>
<line x1="10.6" y1="326.6" x2="520" y2="326.6" stroke-width="1.4"/>
<line x1="10.6" y1="352.4" x2="520" y2="352.4" stroke-width="1.4"/>
<line x1="10.6" y1="377.3" x2="520" y2="377.3" stroke-width="1.4"/>
</g><g stroke="#555">
<line x1="31.5" y1="339.4" x2="398" y2="339.4" stroke-width="1"/>
<line x1="31.5" y1="365.0" x2="398" y2="365.0" stroke-width="1"/>
</g>
<text x="36.20" y="318.80" font-size="6.8" fill="#111" text-anchor="middle" font-weight="bold">Patients</text>
<text x="91.80" y="318.80" font-size="6.8" fill="#111" text-anchor="middle" font-weight="bold">n</text>
<text x="129.60" y="318.80" font-size="6.8" fill="#111" text-anchor="middle" font-weight="bold">Events</text>
<text x="197.20" y="313.60" font-size="6.8" fill="#111" text-anchor="middle" textLength="54.5" lengthAdjust="spacingAndGlyphs" font-weight="bold">Median follow-up,</text>
<text x="198.80" y="322.50" font-size="6.8" fill="#111" text-anchor="middle" textLength="50.8" lengthAdjust="spacingAndGlyphs" font-weight="bold">months (95% CI)</text>
<text x="286.90" y="313.60" font-size="6.8" fill="#111" text-anchor="middle" textLength="37.8" lengthAdjust="spacingAndGlyphs" font-weight="bold">Median PFS,</text>
<text x="288.10" y="322.50" font-size="6.8" fill="#111" text-anchor="middle" textLength="52.2" lengthAdjust="spacingAndGlyphs" font-weight="bold">months (95% CI)</text>
<text x="372.70" y="313.60" font-size="6.8" fill="#111" text-anchor="middle" textLength="50.7" lengthAdjust="spacingAndGlyphs" font-weight="bold">2-year PFS rate,</text>
<text x="375.00" y="322.50" font-size="6.8" fill="#111" text-anchor="middle" textLength="37" lengthAdjust="spacingAndGlyphs" font-weight="bold">% (95% CI)</text>
<text x="446.30" y="313.60" font-size="6.8" fill="#111" text-anchor="middle" font-weight="bold">HR</text>
<text x="447.00" y="322.50" font-size="6.8" fill="#111" text-anchor="middle" textLength="27" lengthAdjust="spacingAndGlyphs" font-weight="bold">(95% CI)</text>
<text x="498.9" y="319.0" font-size="6.8" fill="#111" text-anchor="middle" font-weight="bold"><tspan font-style="italic">P</tspan> value</text>
<text x="4.60" y="343.40" font-size="8.4" fill="#111" textLength="21.8" lengthAdjust="spacingAndGlyphs" font-weight="bold">MRD–</text>
<text x="4.60" y="368.40" font-size="8.4" fill="#111" textLength="22.6" lengthAdjust="spacingAndGlyphs" font-weight="bold">MRD+</text>
<text x="33.00" y="336.80" font-size="6.9" fill="#444" stroke="#444" stroke-width="0.12">Ixazomib</text>
<text x="91.40" y="336.80" font-size="6.9" fill="#444" text-anchor="middle" stroke="#444" stroke-width="0.12">161</text>
<text x="129.60" y="336.80" font-size="6.9" fill="#444" text-anchor="middle" stroke="#444" stroke-width="0.12">55</text>
<text x="198.40" y="336.80" font-size="6.9" fill="#444" text-anchor="middle" textLength="46.8" lengthAdjust="spacingAndGlyphs" stroke="#444" stroke-width="0.12">29.3 (27.0-31.3)</text>
<text x="288.00" y="336.80" font-size="6.9" fill="#444" text-anchor="middle" stroke="#444" stroke-width="0.12">38.6 (36.1-NR)</text>
<text x="373.20" y="336.80" font-size="6.9" fill="#444" text-anchor="middle" textLength="47.3" lengthAdjust="spacingAndGlyphs" stroke="#444" stroke-width="0.12">67.2 (58.7-74.4)</text>
<text x="33.00" y="349.50" font-size="6.9" fill="#444" stroke="#444" stroke-width="0.12">Placebo</text>
<text x="91.40" y="349.50" font-size="6.9" fill="#444" text-anchor="middle" stroke="#444" stroke-width="0.12">101</text>
<text x="129.60" y="349.50" font-size="6.9" fill="#444" text-anchor="middle" stroke="#444" stroke-width="0.12">45</text>
<text x="198.40" y="349.50" font-size="6.9" fill="#444" text-anchor="middle" textLength="46.8" lengthAdjust="spacingAndGlyphs" stroke="#444" stroke-width="0.12">29.9 (27.4-33.8)</text>
<text x="288.00" y="349.50" font-size="6.9" fill="#444" text-anchor="middle" stroke="#444" stroke-width="0.12">33.7 (24.5-NR)</text>
<text x="373.20" y="349.50" font-size="6.9" fill="#444" text-anchor="middle" textLength="47.3" lengthAdjust="spacingAndGlyphs" stroke="#444" stroke-width="0.12">61.7 (51.0-70.7)</text>
<text x="33.00" y="362.70" font-size="6.9" fill="#444" stroke="#444" stroke-width="0.12">Ixazomib</text>
<text x="91.40" y="362.70" font-size="6.9" fill="#444" text-anchor="middle" stroke="#444" stroke-width="0.12">606</text>
<text x="129.60" y="362.70" font-size="6.9" fill="#444" text-anchor="middle" stroke="#444" stroke-width="0.12">351</text>
<text x="198.40" y="362.70" font-size="6.9" fill="#444" text-anchor="middle" textLength="46.8" lengthAdjust="spacingAndGlyphs" stroke="#444" stroke-width="0.12">27.4 (26.3-28.7)</text>
<text x="288.00" y="362.70" font-size="6.9" fill="#444" text-anchor="middle" stroke="#444" stroke-width="0.12">18.8 (17.0-21.3)</text>
<text x="373.20" y="362.70" font-size="6.9" fill="#444" text-anchor="middle" textLength="47.3" lengthAdjust="spacingAndGlyphs" stroke="#444" stroke-width="0.12">40.7 (36.4-45.1)</text>
<text x="33.00" y="375.30" font-size="6.9" fill="#444" stroke="#444" stroke-width="0.12">Placebo</text>
<text x="91.40" y="375.30" font-size="6.9" fill="#444" text-anchor="middle" stroke="#444" stroke-width="0.12">412</text>
<text x="129.60" y="375.30" font-size="6.9" fill="#444" text-anchor="middle" stroke="#444" stroke-width="0.12">298</text>
<text x="198.40" y="375.30" font-size="6.9" fill="#444" text-anchor="middle" textLength="46.8" lengthAdjust="spacingAndGlyphs" stroke="#444" stroke-width="0.12">28.6 (26.2-29.6)</text>
<text x="288.00" y="375.30" font-size="6.9" fill="#444" text-anchor="middle" stroke="#444" stroke-width="0.12">11.6 (10.4-13.9)</text>
<text x="373.20" y="375.30" font-size="6.9" fill="#444" text-anchor="middle" textLength="47.3" lengthAdjust="spacingAndGlyphs" stroke="#444" stroke-width="0.12">24.3 (19.9-29.1)</text>
<text x="445.80" y="337.70" font-size="6.9" fill="#444" text-anchor="middle" stroke="#444" stroke-width="0.12">0.80</text>
<text x="446.00" y="346.90" font-size="6.9" fill="#444" text-anchor="middle" textLength="31.8" lengthAdjust="spacingAndGlyphs" stroke="#444" stroke-width="0.12">(0.53-1.21)</text>
<text x="445.80" y="363.80" font-size="6.9" fill="#444" text-anchor="middle" stroke="#444" stroke-width="0.12">0.65</text>
<text x="446.00" y="373.00" font-size="6.9" fill="#444" text-anchor="middle" textLength="31.8" lengthAdjust="spacingAndGlyphs" stroke="#444" stroke-width="0.12">(0.55-0.76)</text>
<text x="499.20" y="343.00" font-size="6.9" fill="#444" text-anchor="middle" stroke="#444" stroke-width="0.12">.288</text>
<text x="498.80" y="368.80" font-size="6.9" fill="#444" text-anchor="middle" stroke="#444" stroke-width="0.12">&lt;.001</text>
</svg></body></html>
